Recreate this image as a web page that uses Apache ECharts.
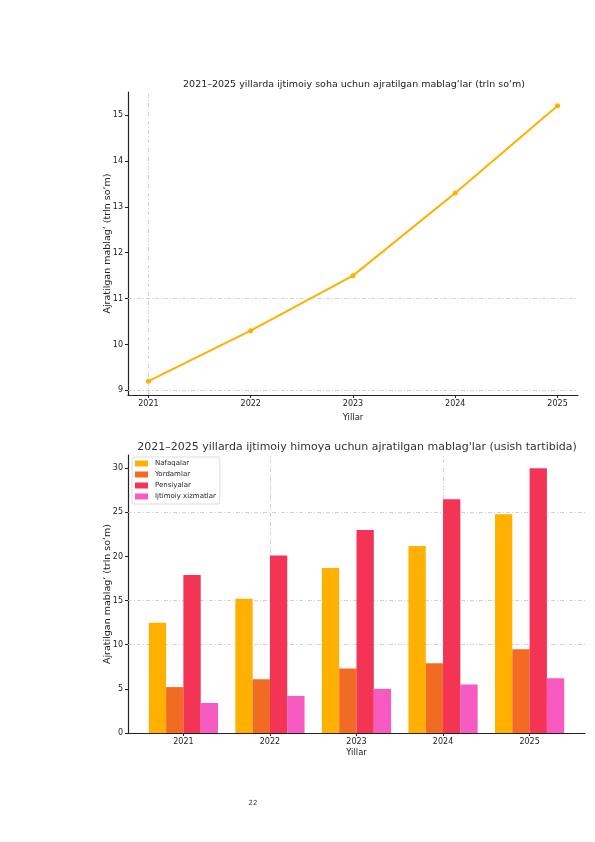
<!DOCTYPE html>
<html>
<head>
<meta charset="utf-8">
<script src="https://cdn.jsdelivr.net/npm/echarts@6/dist/echarts.min.js"></script>
<style>
  html, body { margin: 0; padding: 0; background: #fff; }
  #chart { width: 595px; height: 842px; }
</style>
</head>
<body>
<div id="chart"></div>
<script>
// data
var years = [2021, 2022, 2023, 2024, 2025];
var totalFunds = [9.2, 10.3, 11.5, 13.3, 15.2];

var nafaqalar = [12.5, 15.2, 18.7, 21.2, 24.8];
var yordamlar = [5.2, 6.1, 7.3, 7.9, 9.5];
var pensiyalar = [17.9, 20.1, 23.0, 26.5, 30.0];
var xizmatlar = [3.4, 4.2, 5.0, 5.5, 6.2];

var lineTicks = [9, 10, 11, 12, 13, 14, 15];
var barTicks = [0, 5, 10, 15, 20, 25, 30];

var FONT = 'DejaVu Sans';
var gridStyle = { color: '#c8c8c8', width: 0.8, type: [4, 2, 1, 2] };

function pairs(vals) {
    return years.map(function (y, i) { return [y, vals[i]]; });
}

function axisCommon(ticks) {
    return {
        nameMoveOverlap: false,
        axisLine: { show: true, onZero: false, lineStyle: { color: '#222', width: 1.2 } },
        axisTick: { show: true, customValues: ticks, length: 3, lineStyle: { color: '#222' } },
        axisLabel: {
            customValues: ticks, color: '#222', fontFamily: FONT, fontSize: 8, margin: 5,
            formatter: function (v) { return String(v); }
        },
        splitLine: { show: false }
    };
}

var chart = echarts.init(document.getElementById('chart'));

var barNames = ['Nafaqalar', 'Yordamlar', 'Pensiyalar', 'Ijtimoiy xizmatlar'];
var barColors = ['#FFB000', '#F26B22', '#F43455', '#F75AC0'];
var barData = [nafaqalar, yordamlar, pensiyalar, xizmatlar];

var barSeries = barNames.map(function (name, i) {
    return {
        name: name,
        type: 'bar',
        xAxisIndex: 1,
        yAxisIndex: 1,
        barWidth: 17.3,
        barGap: '0%',
        itemStyle: { color: barColors[i] },
        z: 3,
        data: pairs(barData[i])
    };
});

var nameStyle = { fontFamily: FONT, fontSize: 9.5, color: '#222' };

var option = {
    animation: false,
    backgroundColor: '#fff',
    title: [
        {
            text: '2021–2025 yillarda ijtimoiy soha uchun ajratilgan mablag‘lar (trln so‘m)',
            left: 349, top: 75, textAlign: 'center',
            textStyle: { fontFamily: FONT, fontSize: 9.5, fontWeight: 'normal', color: '#222' }
        },
        {
            text: '2021–2025 yillarda ijtimoiy himoya uchun ajratilgan mablag\'lar (usish tartibida)',
            left: 352, top: 437, textAlign: 'center',
            textStyle: { fontFamily: FONT, fontSize: 11, fontWeight: 'normal', color: '#333' }
        },
        {
            text: '22',
            left: 248, top: 795, textAlign: 'center',
            textStyle: { fontFamily: FONT, fontSize: 7, fontWeight: 'normal', color: '#333' }
        }
    ],
    legend: {
        data: barNames,
        orient: 'vertical',
        left: 132, top: 457,
        padding: [3, 4, 4, 3],
        itemGap: 4,
        itemWidth: 13, itemHeight: 6,
        borderColor: '#ddd', borderWidth: 1, borderRadius: 2,
        icon: 'rect',
        textStyle: { fontFamily: FONT, fontSize: 7, color: '#222', padding: [0, 0, 0, 2] }
    },
    grid: [
        { left: 128, top: 92, width: 450, height: 303 },
        { left: 128, top: 455, width: 457, height: 278 }
    ],
    xAxis: [
        Object.assign({
            type: 'value', gridIndex: 0, min: 2020.8, max: 2025.2,
            name: 'Yillar', nameLocation: 'middle', nameGap: 18,
            nameTextStyle: { fontFamily: FONT, fontSize: 8.5, color: '#222' }
        }, axisCommon(years)),
        Object.assign({
            type: 'value', gridIndex: 1, min: 2020.36, max: 2025.64,
            name: 'Yillar', nameLocation: 'middle', nameGap: 15,
            nameTextStyle: { fontFamily: FONT, fontSize: 8.5, color: '#222' }
        }, axisCommon(years))
    ],
    yAxis: [
        Object.assign({
            type: 'value', gridIndex: 0, min: 8.9, max: 15.5,
            name: 'Ajratilgan mablag‘ (trln so‘m)', nameLocation: 'middle', nameGap: 15,
            nameTextStyle: nameStyle
        }, axisCommon(lineTicks)),
        Object.assign({
            type: 'value', gridIndex: 1, min: 0, max: 31.5,
            name: 'Ajratilgan mablag‘ (trln so‘m)', nameLocation: 'middle', nameGap: 15,
            nameTextStyle: nameStyle
        }, axisCommon(barTicks))
    ],
    series: [
        {
            // faint grid lines of the line chart
            type: 'line', xAxisIndex: 0, yAxisIndex: 0, data: [], z: 1,
            markLine: {
                silent: true, symbol: 'none', label: { show: false }, z: 1,
                lineStyle: gridStyle,
                data: [{ yAxis: 11 }, { yAxis: 9 }, { xAxis: 2021 }]
            }
        },
        {
            name: 'Mablag‘',
            type: 'line', xAxisIndex: 0, yAxisIndex: 0, z: 3,
            symbol: 'circle', symbolSize: 5,
            lineStyle: { color: '#FFB000', width: 2 },
            itemStyle: { color: '#FFB000' },
            data: pairs(totalFunds)
        },
        {
            // faint grid lines of the bar chart
            type: 'line', xAxisIndex: 1, yAxisIndex: 1, data: [], z: 1,
            markLine: {
                silent: true, symbol: 'none', label: { show: false }, z: 1,
                lineStyle: gridStyle,
                data: [{ yAxis: 25 }, { yAxis: 15 }, { yAxis: 10 }, { xAxis: 2022 }, { xAxis: 2024 }]
            }
        }
    ].concat(barSeries)
};

chart.setOption(option);
</script>
</body>
</html>
